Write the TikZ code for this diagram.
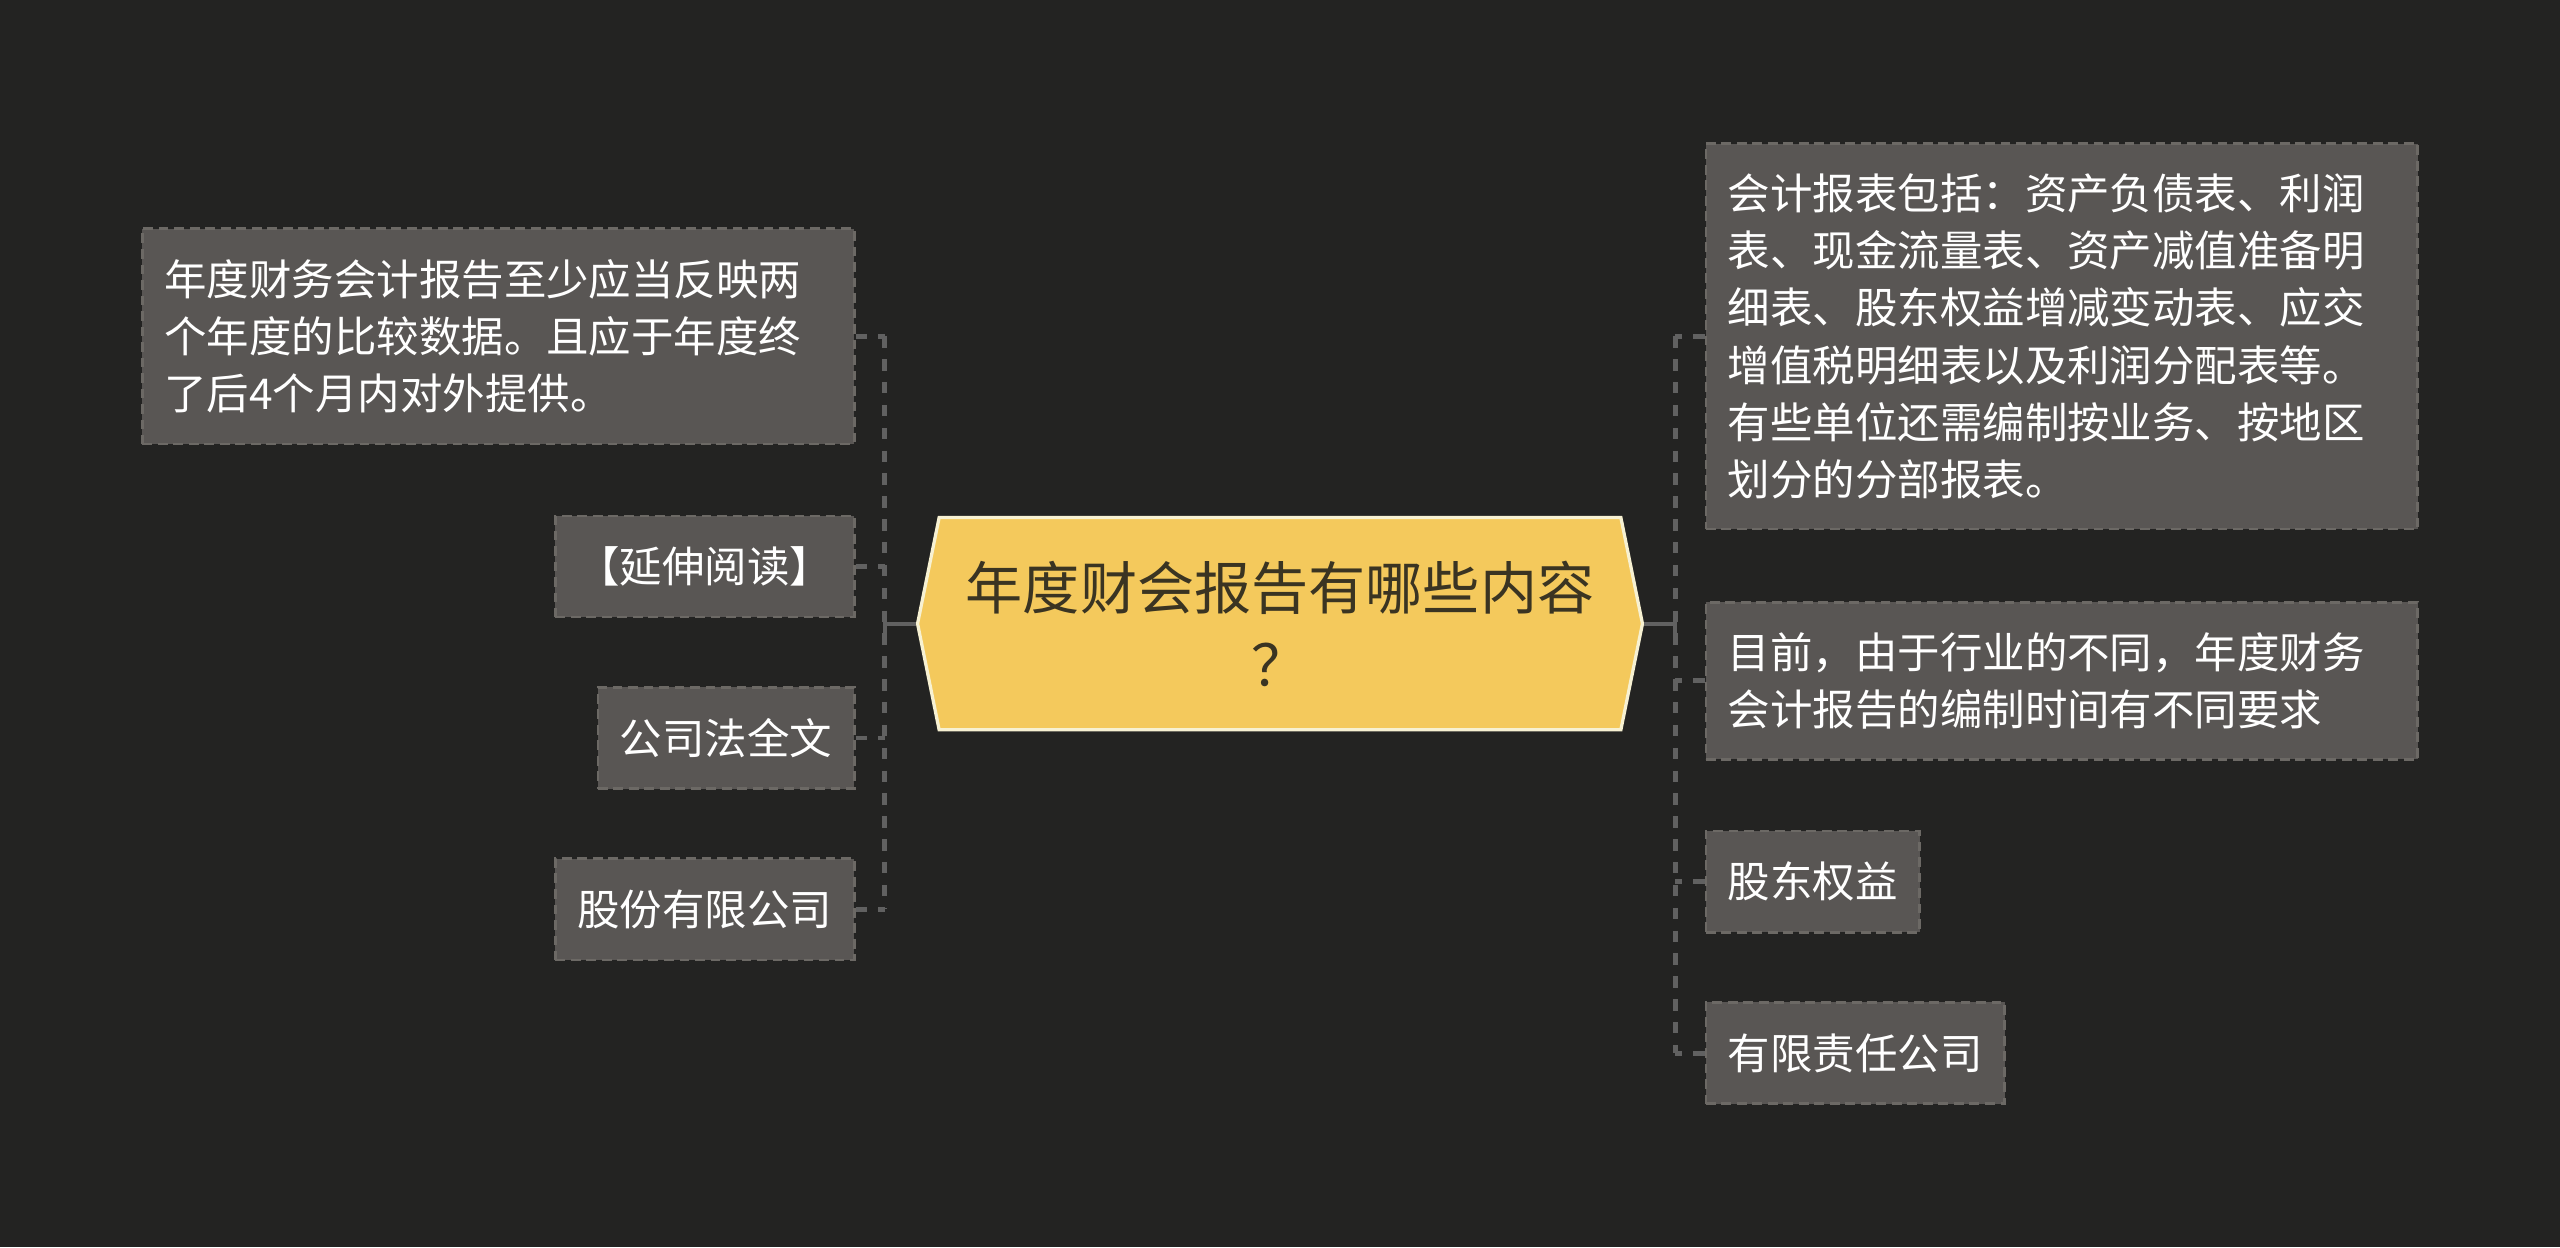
\documentclass[tikz,border=0pt]{standalone}
\usepackage{fontspec}
\setmainfont{Noto Sans CJK SC}
\usetikzlibrary{shapes.symbols}
\definecolor{bg}{HTML}{232322}
\definecolor{boxfill}{HTML}{595654}
\definecolor{boxline}{HTML}{6C6965}
\definecolor{conncol}{HTML}{616161}
\definecolor{mainfill}{HTML}{F4C95C}
\definecolor{mainline}{HTML}{F7F1D2}
\definecolor{maintext}{HTML}{3A3422}
\begin{document}
\begin{tikzpicture}[x=1pt,y=-1pt,
  leaf/.style={draw=boxline, fill=boxfill, line width=1.6pt, dash pattern=on 6pt off 3.5pt,
    text=white, font=\fontsize{26}{35}\selectfont, inner xsep=13.5pt, inner ysep=0pt,
    align=left, minimum height=62pt},
  conn/.style={draw=conncol, line width=3pt, dash pattern=on 7pt off 7pt},
  connsolid/.style={draw=conncol, line width=2.6pt},
  hub/.style={signal, signal to=west and east, signal pointer angle=157,
    fill=mainfill, draw=mainline, line width=2pt, minimum width=444pt,
    minimum height=130pt, text=maintext, font=\fontsize{35}{47}\selectfont,
    align=center, inner sep=0pt}
]
\fill[bg] (0,0) rectangle (1568,764);
\useasboundingbox (0,0) rectangle (1568,764);

\node[hub] (c) at (784,382) {年度财会报告有哪些内容\\？};

% left
\node[leaf, anchor=east, text width=409pt, minimum height=132pt] (l1) at (524,206)
  {年度财务会计报告至少应当反映两\\个年度的比较数据。且应于年度终\\了后4个月内对外提供。};
\node[leaf, anchor=east] (l2) at (524,347) {【延伸阅读】};
\node[leaf, anchor=east] (l3) at (524,452) {公司法全文};
\node[leaf, anchor=east] (l4) at (524,557) {股份有限公司};

% right
\node[leaf, anchor=west, text width=409pt, minimum height=236pt] (r1) at (1044,206)
  {会计报表包括：资产负债表、利润\\表、现金流量表、资产减值准备明\\细表、股东权益增减变动表、应交\\增值税明细表以及利润分配表等。\\有些单位还需编制按业务、按地区\\划分的分部报表。};
\node[leaf, anchor=west, text width=409pt, minimum height=96pt] (r2) at (1044,417)
  {目前，由于行业的不同，年度财务\\会计报告的编制时间有不同要求};
\node[leaf, anchor=west] (r3) at (1044,540) {股东权益};
\node[leaf, anchor=west] (r4) at (1044,645) {有限责任公司};

% connectors
\coordinate (ls) at (542,382);
\coordinate (rs) at (1026,382);
\draw[conn] (l1.east -| ls) -- (l4.east -| ls);
\draw[conn] (r1.west -| rs) -- (r4.west -| rs);
\foreach \n in {l1,l2,l3,l4} {\draw[conn] (\n.east) -- (\n.east -| ls);}
\foreach \n in {r1,r2,r3,r4} {\draw[conn] (\n.west) -- (\n.west -| rs);}
\draw[connsolid] (c.west) -- (ls);
\draw[connsolid] ([yshift=-7pt]ls) -- ([yshift=7pt]ls);
\draw[connsolid] (c.east) -- (rs);
\draw[connsolid] ([yshift=-7pt]rs) -- ([yshift=7pt]rs);
\end{tikzpicture}
\end{document}
